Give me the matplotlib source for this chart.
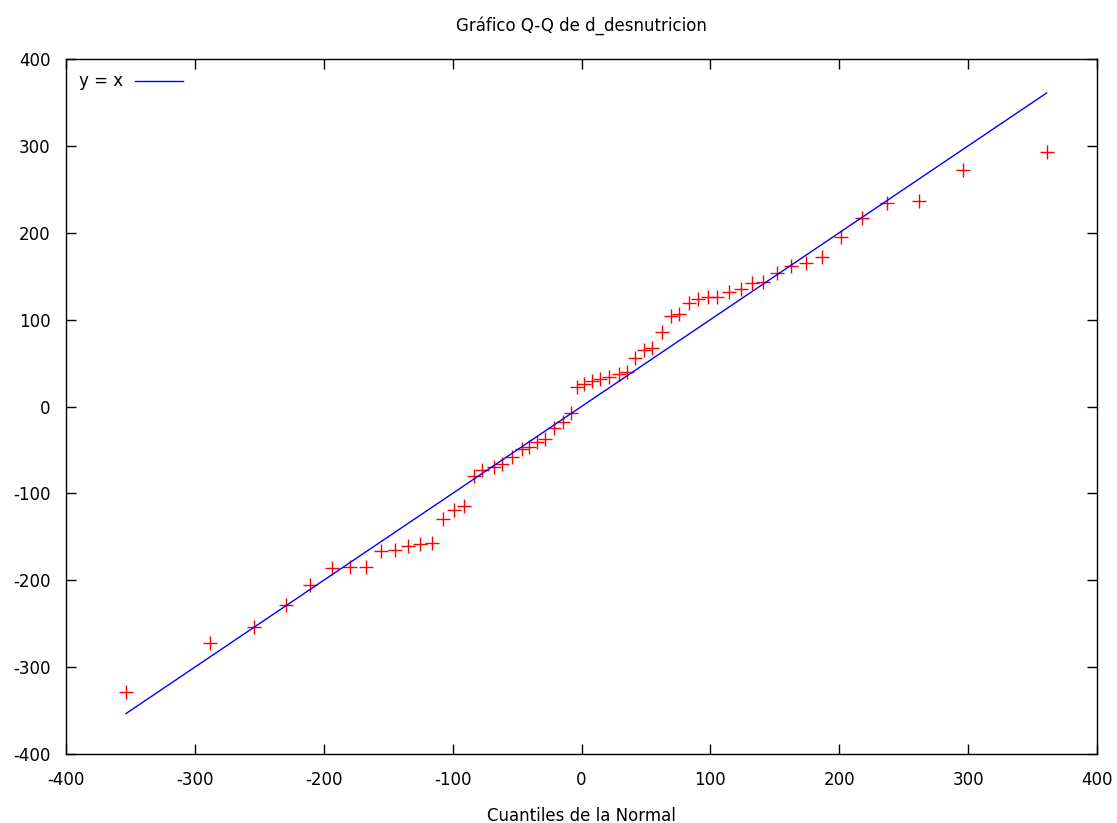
import numpy as np
import matplotlib
matplotlib.use("Agg")
import matplotlib.pyplot as plt

# -----------------------------
# --- Data
# -----------------------------
normal_quantiles = [
    -353.4, -288.2, -254.5, -229.4, -210.5, -193.6, -180.0, -167.2, -155.3, -144.5,
    -134.6, -125.0, -116.0, -107.4, -99.2, -91.4, -83.6, -77.1, -68.1, -61.6,
    -53.8, -46.0, -40.9, -34.4, -28.0, -21.5, -14.5, -8.5, -3.4, 1.8,
    8.3, 14.2, 21.2, 29.0, 35.5, 41.9, 48.4, 54.9, 62.1, 69.1,
    75.6, 83.3, 90.3, 98.4, 105.4, 114.4, 123.5, 132.6, 141.1, 152.0,
    162.3, 174.5, 187.0, 201.2, 217.5, 236.9, 261.5, 295.7, 360.9,
]
sample_values = [
    -328.9, -271.8, -253.4, -228.4, -205.4, -185.5, -184.3, -184.3, -165.9, -165.1,
    -160.5, -158.6, -157.4, -129.8, -119.1, -114.5, -80.0, -73.0, -69.3, -66.5,
    -58.5, -48.9, -46.2, -40.5, -37.4, -25.1, -18.2, -7.9, 22.8, 25.9,
    29.3, 31.6, 34.3, 37.4, 40.0, 55.4, 65.0, 67.0, 86.0, 104.0,
    106.4, 118.7, 123.3, 125.6, 126.4, 131.4, 134.8, 141.7, 143.6, 153.2,
    161.7, 164.8, 172.4, 195.4, 217.3, 233.8, 236.8, 272.2, 293.2,
]
ticks = [-400, -300, -200, -100, 0, 100, 200, 300, 400]

# -----------------------------
# --- Figure
# -----------------------------
plt.rcParams["font.family"] = "DejaVu Sans"
plt.rcParams["axes.unicode_minus"] = False
fig = plt.figure(figsize=(11.17, 8.23), dpi=100)
ax = fig.add_axes([66 / 1117, 69 / 823, 1031 / 1117, 695 / 823])

xs = np.array(normal_quantiles)
ax.plot(xs, sample_values, linestyle="none", marker="+", color="red",
        markersize=10, markeredgewidth=1.0)
line_x = [xs.min(), xs.max()]
ax.plot(line_x, line_x, color="blue", linewidth=1.0, label="y = x")

ax.set_xlim(-400, 400)
ax.set_ylim(-400, 400)
ax.set_xticks(ticks)
ax.set_yticks(ticks)
ax.tick_params(direction="in", top=True, right=True, length=7, width=1,
               labelsize=12)
ax.tick_params(axis="x", pad=12)
ax.tick_params(axis="y", pad=11)
for sp in ax.spines.values():
    sp.set_linewidth(1.0)

ax.set_title("Gráfico Q-Q de d_desnutricion", fontsize=12, pad=20)
ax.set_xlabel("Cuantiles de la Normal", fontsize=12, labelpad=13)

leg = ax.legend(loc="upper left", frameon=False, fontsize=12, markerfirst=False,
                handlelength=2.9, handletextpad=0.7, borderaxespad=0.4)

fig.savefig("out.png", dpi=100)
